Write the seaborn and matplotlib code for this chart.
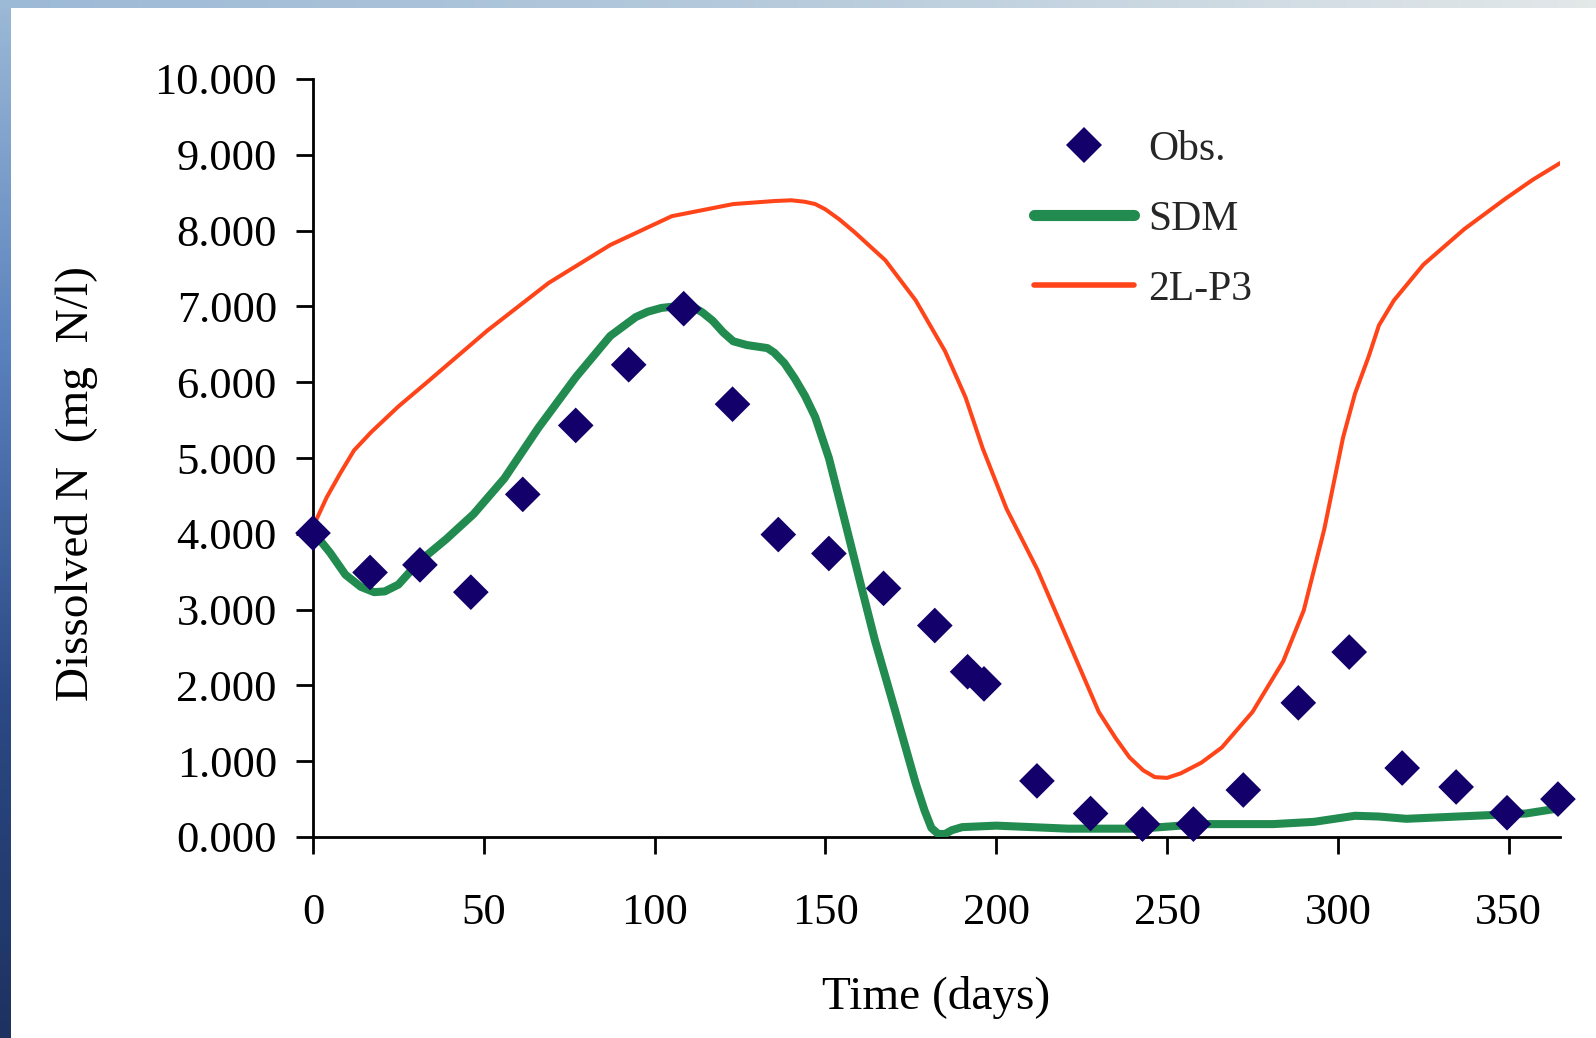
import numpy as np
import matplotlib
matplotlib.use('Agg')
import matplotlib.pyplot as plt
import seaborn as sns
from matplotlib.colors import LinearSegmentedColormap
from matplotlib.lines import Line2D

sns.set_theme(style='white')
plt.rcParams['font.family'] = ['Liberation Serif', 'DejaVu Serif']

# ── Data ──────────────────────────────────────────────
obs_day = [0, 16.7, 31.3, 46.2, 61.4, 76.9, 92.4, 108.5, 122.8, 136.2, 151, 167, 182,
           191.6, 196.4, 211.9, 227.6, 242.8, 257.7, 272.3, 288.4, 303.3, 318.8,
           334.6, 349.5, 364.4]
obs_val = [4.01, 3.49, 3.59, 3.23, 4.52, 5.43, 6.23, 6.97, 5.71, 3.99, 3.74, 3.28, 2.79,
           2.18, 2.02, 0.74, 0.31, 0.17, 0.17, 0.62, 1.77, 2.44, 0.91, 0.66, 0.32, 0.50]

sdm_day = [0, 5, 9.5, 14, 17.9, 21, 25, 31, 39, 47, 56, 66, 77, 87, 94.5, 98, 102, 106,
           111, 114, 117, 120, 123, 127, 130, 133, 135, 138, 141, 144, 147, 151, 155.5,
           160, 164.5, 170.5, 176.4, 179, 181, 183, 185, 187, 190, 200, 221, 242, 260,
           281, 293, 299, 305, 312, 320, 340, 355, 365]
sdm_val = [4.03, 3.75, 3.46, 3.30, 3.23, 3.24, 3.33, 3.63, 3.93, 4.26, 4.73, 5.40, 6.07,
           6.61, 6.86, 6.93, 6.98, 7.00, 7.00, 6.92, 6.81, 6.66, 6.54, 6.49, 6.47, 6.45,
           6.39, 6.25, 6.05, 5.82, 5.54, 5.00, 4.20, 3.39, 2.59, 1.65, 0.71, 0.35, 0.12,
           0.04, 0.04, 0.09, 0.13, 0.15, 0.11, 0.11, 0.17, 0.17, 0.20, 0.24, 0.28, 0.27,
           0.24, 0.28, 0.31, 0.38]

p3_day = [0, 4, 8, 12, 17, 25, 33.4, 51, 69, 87, 105, 123, 135, 140, 144, 147, 150,
          154, 158.5, 167.5, 176.4, 185, 191, 196, 203, 212, 221, 230, 235, 239, 243,
          246.4, 250, 254, 260, 266, 275, 284, 290, 296, 301.5, 305, 309, 312, 316.4,
          325, 337, 349, 357, 365]
p3_val = [4.09, 4.48, 4.80, 5.10, 5.34, 5.68, 6.00, 6.68, 7.31, 7.81, 8.19, 8.35, 8.39,
          8.40, 8.38, 8.35, 8.28, 8.15, 7.98, 7.61, 7.08, 6.41, 5.80, 5.13, 4.33, 3.53,
          2.59, 1.65, 1.30, 1.05, 0.88, 0.79, 0.78, 0.84, 0.98, 1.18, 1.65, 2.32, 2.99,
          4.06, 5.27, 5.85, 6.34, 6.75, 7.08, 7.55, 8.02, 8.42, 8.67, 8.89]

x_ticks = [0, 50, 100, 150, 200, 250, 300, 350]
y_ticks = [0, 1, 2, 3, 4, 5, 6, 7, 8, 9, 10]

C_OBS = '#13006b'
C_SDM = '#228b4f'
C_P3 = '#ff4419'

W, H = 1596, 1038
fig = plt.figure(figsize=(W / 100, H / 100), dpi=100)

# ── Slide-like frame: blue gradient on left and top ───
bg = fig.add_axes([0, 0, 1, 1], zorder=-10)
bg.set_axis_off()
left_cmap = LinearSegmentedColormap.from_list('l', ['#9cb9d6', '#5a82bd', '#2c4a86', '#1d3260'])
top_cmap = LinearSegmentedColormap.from_list('t', ['#9cb9d6', '#b7cbdc', '#e3e8e9'])
img = np.ones((H, W, 4))
vert = left_cmap(np.linspace(0, 1, H))
img[:, :11, :] = vert[:, None, :]
horiz = top_cmap(np.linspace(0, 1, W))
img[:8, :, :] = horiz[None, :, :]
bg.imshow(img, extent=[0, W, 0, H], aspect='auto')
bg.set_xlim(0, W)
bg.set_ylim(0, H)

# ── Main axes ─────────────────────────────────────────
ax = fig.add_axes([313 / W, 1 - 837 / H, (1560 - 313) / W, (837 - 79) / H])
ax.set_facecolor('none')

sns.lineplot(x=p3_day, y=p3_val, ax=ax, color=C_P3, lw=2.9, zorder=2)
sns.lineplot(x=sdm_day, y=sdm_val, ax=ax, color=C_SDM, lw=5.8, zorder=3)
sns.scatterplot(x=obs_day, y=obs_val, ax=ax, marker='D', s=330, color=C_OBS,
                edgecolor='none', zorder=4, clip_on=False)

ax.set_xlim(0, 365)
ax.set_ylim(0, 10)
ax.set_xticks(x_ticks)
ax.set_yticks(y_ticks)
ax.set_yticklabels([f'{v:.3f}' for v in y_ticks])
for s in ['top', 'right']:
    ax.spines[s].set_visible(False)
for s in ['left', 'bottom']:
    ax.spines[s].set_color('black')
    ax.spines[s].set_linewidth(2)
ax.tick_params(axis='both', direction='out', length=12, width=2, color='black',
               labelsize=32, labelcolor='black')
ax.tick_params(axis='x', pad=28, bottom=True)
ax.tick_params(axis='y', pad=14, left=True)

ax.set_xlabel('Time (days)', fontsize=34, color='black')
ax.xaxis.set_label_coords(0.5, -0.212)
ax.xaxis.label.set_va('center')
ax.set_ylabel('Dissolved N  (mg  N/l)', fontsize=34, color='black')
ax.yaxis.set_label_coords(-0.19, 0.466)
ax.yaxis.label.set_va('center')

handles = [
    Line2D([], [], marker='D', ls='none', color=C_OBS, markersize=18, markeredgewidth=0),
    Line2D([], [], color=C_SDM, lw=8),
    Line2D([], [], color=C_P3, lw=4),
]
leg = ax.legend(handles, ['Obs.', 'SDM', '2L-P3'], loc='upper left',
                bbox_to_anchor=(0.578, 0.932), frameon=False, fontsize=30,
                handlelength=2.4, handletextpad=0.35, labelspacing=0.75,
                borderpad=0, borderaxespad=0)

plt.savefig('out.png', dpi=100)
